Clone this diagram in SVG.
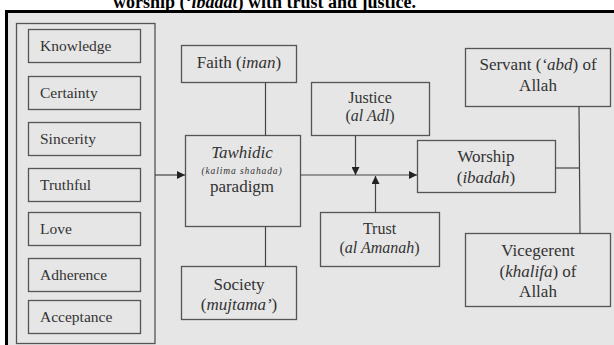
<svg xmlns="http://www.w3.org/2000/svg" width="614" height="345" viewBox="0 0 614 345">
<defs>
<style>
.box{fill:none;stroke:#555;stroke-width:1.3}
.t{font-family:"Liberation Serif","Times New Roman",serif;fill:#333;font-size:16px}
.c{text-anchor:middle}
.l{font-size:15.5px}
.b{font-size:17px}
.s{font-size:9.5px;letter-spacing:0.9px}
.i{font-style:italic}
.ln{stroke:#444;stroke-width:1.2;fill:none}
</style>
<marker id="ah" viewBox="0 0 10 10" refX="10" refY="5" markerWidth="8" markerHeight="8" markerUnits="userSpaceOnUse" orient="auto">
<path d="M0,0 L10,5 L0,10 z" fill="#222"/>
</marker>
</defs>
<rect x="0" y="0" width="614" height="345" fill="#fff"/>
<rect x="6.5" y="11.5" width="620" height="350" fill="#e6e6e6" stroke="#000" stroke-width="3"/>
<text x="113" y="8" font-family="'Liberation Serif','Times New Roman',serif" font-weight="bold" font-size="18" fill="#000">worship (‘<tspan font-style="italic">ibadat</tspan>) with trust and justice.</text>

<g id="group-left">
<rect class="box" x="16.5" y="23.5" width="138.5" height="320"/>
</g>
<g id="knowledge"><rect class="box" x="28.5" y="29.5" width="112" height="33"/><text class="t l" x="40" y="50.5">Knowledge</text></g>
<g id="certainty"><rect class="box" x="28.5" y="76.5" width="112" height="33"/><text class="t l" x="40" y="97.5">Certainty</text></g>
<g id="sincerity"><rect class="box" x="28.5" y="122.5" width="112" height="33"/><text class="t l" x="40" y="143.5">Sincerity</text></g>
<g id="truthful"><rect class="box" x="28.5" y="168.5" width="112" height="33"/><text class="t l" x="40" y="189.5">Truthful</text></g>
<g id="love"><rect class="box" x="28.5" y="212.5" width="112" height="33"/><text class="t l" x="40" y="233.5">Love</text></g>
<g id="adherence"><rect class="box" x="28.5" y="258.5" width="112" height="33"/><text class="t l" x="40" y="279.5">Adherence</text></g>
<g id="acceptance"><rect class="box" x="28.5" y="300.5" width="112" height="33"/><text class="t l" x="40" y="321.5">Acceptance</text></g>

<g id="faith"><rect class="box" x="181.5" y="45.5" width="115" height="37"/><text class="t b c" x="239" y="68">Faith (<tspan class="i">iman</tspan>)</text></g>
<g id="tawhidic"><rect class="box" x="185.5" y="135.5" width="115" height="91"/>
<text class="t b c i" x="242" y="158">Tawhidic</text>
<text class="t s c i" x="242" y="173.5">(kalima shahada)</text>
<text class="t b c" x="242" y="192">paradigm</text></g>
<g id="society"><rect class="box" x="181.5" y="266.5" width="115" height="53"/><text class="t b c" x="239" y="290">Society</text><text class="t b c" x="239" y="310">(<tspan class="i">mujtama’</tspan>)</text></g>
<g id="justice"><rect class="box" x="311.5" y="82.5" width="118" height="53"/><text class="t c" x="370" y="103">Justice</text><text class="t c" x="370" y="121">(<tspan class="i">al Adl</tspan>)</text></g>
<g id="trust"><rect class="box" x="320.5" y="212.5" width="119" height="54"/><text class="t c" x="379.5" y="234">Trust</text><text class="t c" x="379.5" y="253">(<tspan class="i">al Amanah</tspan>)</text></g>
<g id="worship"><rect class="box" x="417.5" y="140.5" width="138" height="52"/><text class="t b c" x="486" y="162">Worship</text><text class="t b c" x="486" y="183">(<tspan class="i">ibadah</tspan>)</text></g>
<g id="servant"><rect class="box" x="465.5" y="48.5" width="145" height="58"/><text class="t b c" x="538" y="70">Servant (<tspan class="i">‘abd</tspan>) of</text><text class="t b c" x="538" y="91">Allah</text></g>
<g id="vicegerent"><rect class="box" x="465.5" y="233.5" width="145" height="73"/><text class="t b c" x="538" y="256">Vicegerent</text><text class="t b c" x="538" y="277">(<tspan class="i">khalifa</tspan>) of</text><text class="t b c" x="538" y="297">Allah</text></g>

<g id="connectors">
<line class="ln" x1="155" y1="175" x2="185" y2="175" marker-end="url(#ah)"/>
<line class="ln" x1="265.5" y1="82.5" x2="265.5" y2="135.5"/>
<line class="ln" x1="265.5" y1="226.5" x2="265.5" y2="266.5"/>
<line class="ln" x1="300.5" y1="175" x2="417" y2="175" marker-end="url(#ah)"/>
<line class="ln" x1="355.5" y1="135.5" x2="355.5" y2="175" marker-end="url(#ah)"/>
<line class="ln" x1="375.5" y1="212.5" x2="375.5" y2="176" marker-end="url(#ah)"/>
<line class="ln" x1="555.5" y1="168" x2="579.5" y2="168"/>
<line class="ln" x1="579" y1="106.5" x2="580" y2="233.5"/>
</g>
</svg>
